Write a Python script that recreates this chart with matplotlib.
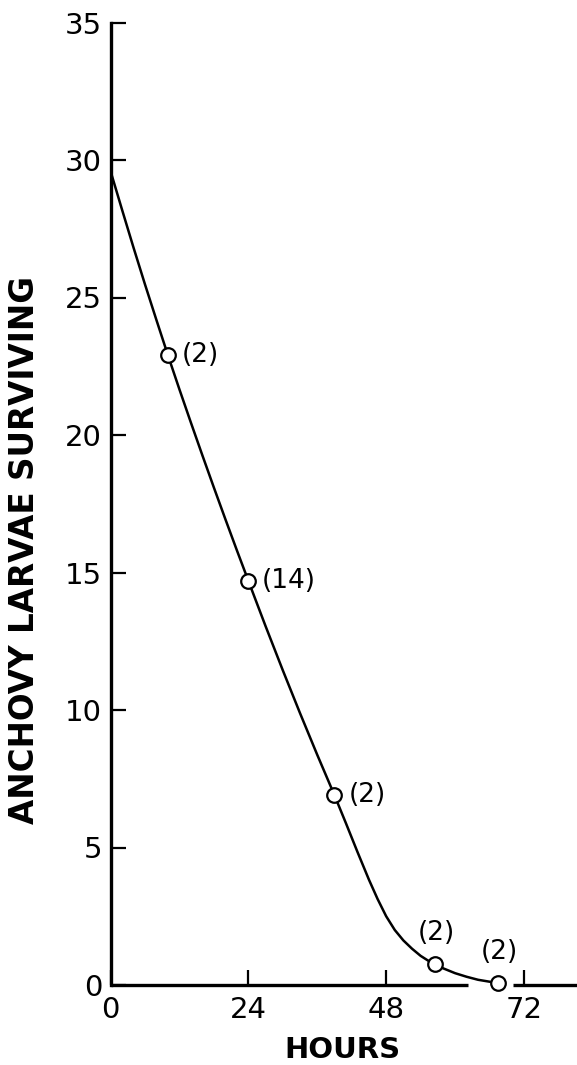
import numpy as np
import matplotlib
matplotlib.use('Agg')
from matplotlib import pyplot as plt

# observed survival points and the number of trials at each
hours = [10, 24, 39, 56.5, 67.5]
survivors = [22.9, 14.7, 6.9, 0.75, 0.08]
counts = ['(2)', '(14)', '(2)', '(2)', '(2)']

# hand-fitted survival curve
curve_hours = [0, 2, 4, 6, 8, 10, 12, 14, 16, 18, 20, 22, 24, 27, 30, 33, 36,
               39, 41, 43, 45, 46.5, 48, 49.5, 51, 52.5, 54, 55.5, 56.5, 58,
               60, 62, 64, 66, 67.5]
curve_vals = [29.6, 28.2, 26.82, 25.48, 24.18, 22.9, 21.66, 20.45, 19.26,
              18.09, 16.94, 15.81, 14.7, 13.05, 11.445, 9.885, 8.37, 6.9,
              5.88, 4.84, 3.83, 3.13, 2.5, 2.0, 1.62, 1.32, 1.06, 0.86, 0.75,
              0.6, 0.43, 0.3, 0.19, 0.12, 0.08]

x_ticks = [0, 24, 48, 72]
y_ticks = [0, 5, 10, 15, 20, 25, 30, 35]

W, H = 577, 1065
fig = plt.figure(figsize=(W / 100, H / 100), dpi=100)
ax = fig.add_axes([110.5 / W, 80 / H, (W - 110.5) / W, 962.5 / H])

ax.plot(curve_hours, curve_vals, color='black', lw=1.8, solid_capstyle='round',
        solid_joinstyle='round', zorder=3)
ax.plot(hours, survivors, 'o', ms=10.5, mfc='white', mec='black', mew=1.6,
        zorder=4, clip_on=False)

# count labels: right of the upper points, above the two near the axis
for i, (h, v, c) in enumerate(zip(hours, survivors, counts)):
    if i < 3:
        ax.annotate(c, (h, v), xytext=(10, 0), textcoords='offset points',
                    va='center', ha='left', fontsize=19)
    else:
        ax.annotate(c, (h, v), xytext=(1, 13), textcoords='offset points',
                    va='bottom', ha='center', fontsize=19)

ax.set_xlim(0, (W - 110.5) / 5.743)
ax.set_ylim(0, 35)
ax.set_xticks(x_ticks)
ax.set_yticks(y_ticks)
ax.tick_params(direction='in', length=11, width=1.6, labelsize=21, pad=6)
ax.tick_params(axis='x', pad=8)

for s in ['top', 'right', 'bottom']:
    ax.spines[s].set_visible(False)
ax.spines['left'].set_linewidth(2.4)

# x axis drawn in two pieces, broken where the curve meets it
ax.plot([0, 62.2], [0, 0], color='black', lw=2.4, clip_on=False, zorder=2,
        solid_capstyle='butt')
ax.plot([70, ax.get_xlim()[1]], [0, 0], color='black', lw=2.4, clip_on=False,
        zorder=2, solid_capstyle='butt')

fig.text(342 / W, 1 - 1049.5 / H, 'HOURS', ha='center', va='center',
         fontsize=21, fontweight='bold')
fig.text(25 / W, 1 - 550 / H, 'ANCHOVY LARVAE SURVIVING', ha='center',
         va='center', rotation=90, fontsize=23.5, fontweight='bold')

fig.savefig('out.png', dpi=100, facecolor='white')
